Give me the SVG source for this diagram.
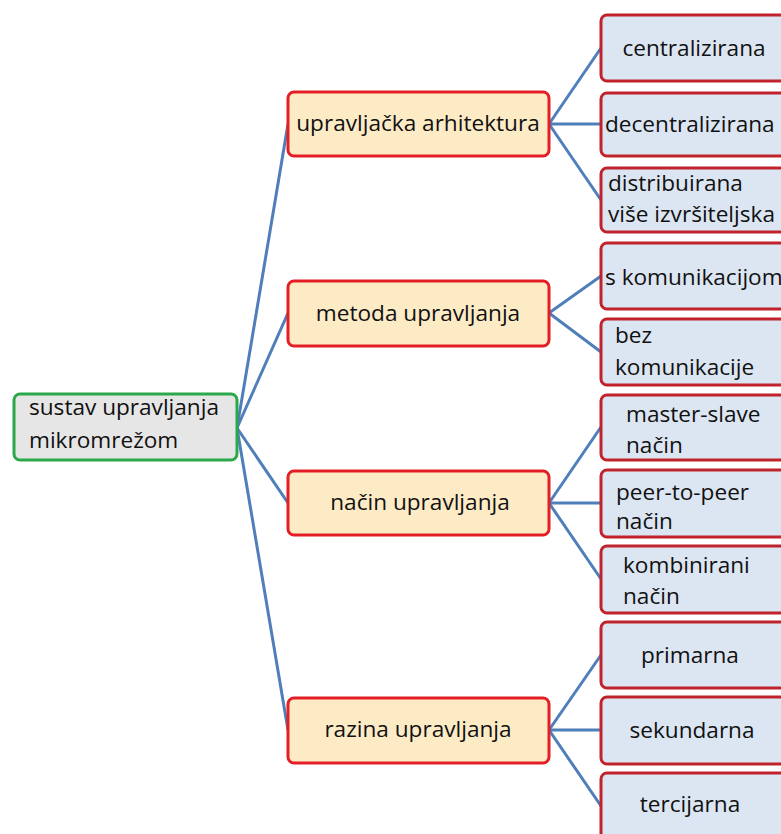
<svg xmlns="http://www.w3.org/2000/svg" width="781" height="834" viewBox="0 0 781 834">
<style>
text{font-family:"Open Sans","Noto Sans","Liberation Sans",sans-serif;font-size:22.6px;fill:#111}
.root{fill:#e6e6e6;stroke:#2aa84a;stroke-width:3}
.mid{fill:#fdebc6;stroke:#e31e24;stroke-width:3}
.leaf{fill:#dce6f2;stroke:#c0232b;stroke-width:3}
.c{text-anchor:middle}
#connectors line{stroke:#4f7fba;stroke-width:3;fill:none}
</style>
<rect width="781" height="834" fill="#fff"/>
<g id="connectors">
<line x1="237" y1="428" x2="288" y2="124"/>
<line x1="237" y1="428" x2="288" y2="313"/>
<line x1="237" y1="428" x2="288" y2="503"/>
<line x1="237" y1="428" x2="288" y2="730"/>
<line x1="549" y1="124" x2="601" y2="48"/>
<line x1="549" y1="124" x2="601" y2="124"/>
<line x1="549" y1="124" x2="601" y2="200"/>
<line x1="549" y1="313" x2="601" y2="276"/>
<line x1="549" y1="313" x2="601" y2="352"/>
<line x1="549" y1="503" x2="601" y2="427"/>
<line x1="549" y1="503" x2="601" y2="503"/>
<line x1="549" y1="503" x2="601" y2="579"/>
<line x1="549" y1="730" x2="601" y2="655"/>
<line x1="549" y1="730" x2="601" y2="730"/>
<line x1="549" y1="730" x2="601" y2="806"/>
</g>
<g id="root">
<rect class="root" x="14" y="394" width="223" height="66" rx="6"/>
<text x="29" y="415">sustav upravljanja</text>
<text x="29" y="448">mikromrežom</text>
</g>
<g id="mid1">
<rect class="mid" x="288" y="92" width="261" height="64" rx="6"/>
<text class="c" x="418" y="131">upravljačka arhitektura</text>
</g>
<g id="mid2">
<rect class="mid" x="288" y="281" width="261" height="65" rx="6"/>
<text class="c" x="418" y="321">metoda upravljanja</text>
</g>
<g id="mid3">
<rect class="mid" x="288" y="471" width="261" height="64" rx="6"/>
<text class="c" x="420" y="510">način upravljanja</text>
</g>
<g id="mid4">
<rect class="mid" x="288" y="698" width="261" height="65" rx="6"/>
<text class="c" x="418" y="737">razina upravljanja</text>
</g>
<g id="leaf1">
<rect class="leaf" x="601" y="15" width="200" height="66" rx="6"/>
<text class="c" x="694" y="56">centralizirana</text>
</g>
<g id="leaf2">
<rect class="leaf" x="601" y="93" width="200" height="63" rx="6"/>
<text x="605" y="132">decentralizirana</text>
</g>
<g id="leaf3">
<rect class="leaf" x="601" y="168" width="200" height="64" rx="6"/>
<text x="608" y="191">distribuirana</text>
<text x="608" y="222">više izvršiteljska</text>
</g>
<g id="leaf4">
<rect class="leaf" x="601" y="243" width="200" height="66" rx="6"/>
<text x="605" y="285">s komunikacijom</text>
</g>
<g id="leaf5">
<rect class="leaf" x="601" y="319" width="200" height="66" rx="6"/>
<text x="615" y="343">bez</text>
<text x="615" y="375">komunikacije</text>
</g>
<g id="leaf6">
<rect class="leaf" x="601" y="395" width="200" height="65" rx="6"/>
<text x="626" y="422">master-slave</text>
<text x="626" y="453">način</text>
</g>
<g id="leaf7">
<rect class="leaf" x="601" y="470" width="200" height="67" rx="6"/>
<text x="616" y="500">peer-to-peer</text>
<text x="616" y="529">način</text>
</g>
<g id="leaf8">
<rect class="leaf" x="601" y="546" width="200" height="67" rx="6"/>
<text x="623" y="573">kombinirani</text>
<text x="623" y="604">način</text>
</g>
<g id="leaf9">
<rect class="leaf" x="601" y="622" width="200" height="66" rx="6"/>
<text class="c" x="690" y="663">primarna</text>
</g>
<g id="leaf10">
<rect class="leaf" x="601" y="697" width="200" height="67" rx="6"/>
<text class="c" x="692" y="738">sekundarna</text>
</g>
<g id="leaf11">
<rect class="leaf" x="601" y="773" width="200" height="80" rx="6"/>
<text class="c" x="690" y="812">tercijarna</text>
</g>
</svg>
